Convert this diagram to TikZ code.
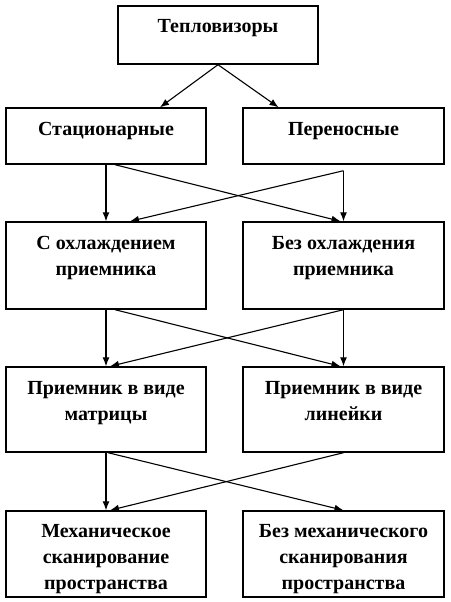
\documentclass[tikz,border=0pt]{standalone}
\usepackage{fontspec}
\setmainfont{Liberation Serif}
\usetikzlibrary{arrows.meta,calc}
\begin{document}
\begin{tikzpicture}[x=1pt,y=-1pt,
  box/.style={draw,line width=1.4pt,minimum width=200pt,inner sep=0pt},
  lbl/.style={anchor=north,inner sep=0pt,align=center,font=\fontsize{20}{26}\selectfont\bfseries},
  arr/.style={line width=1.1pt,-{Latex[length=9pt,width=7pt]}}]
\useasboundingbox (0,0) rectangle (450,602);
% boxes
\node[box,minimum height=58pt] (t) at (218,35) {};
\node[box,minimum height=56pt] (s1) at (106,136) {};
\node[box,minimum height=56pt,minimum width=201pt] (s2) at (343.5,136) {};
\node[box,minimum height=87pt] (c1) at (106,265.5) {};
\node[box,minimum height=87pt,minimum width=201pt] (c2) at (343.5,265.5) {};
\node[box,minimum height=85pt] (m1) at (106,409.5) {};
\node[box,minimum height=85pt,minimum width=201pt] (m2) at (343.5,409.5) {};
\node[box,minimum height=86pt] (k1) at (106,554) {};
\node[box,minimum height=86pt,minimum width=201pt] (k2) at (343.5,554) {};
% labels
\node[lbl] (lt) at ($(t.north)+(0,13.5)$) {\rule{0pt}{14pt}Тепловизоры};
\node[lbl] (ls1) at ($(s1.north)+(0,13.5)$) {\rule{0pt}{14pt}Стационарные};
\node[lbl] (ls2) at ($(s2.north)+(0,13.5)$) {\rule{0pt}{14pt}Переносные};
\node[lbl] (lc1) at ($(c1.north)+(0,13.5)$) {\rule{0pt}{14pt}С охлаждением\\приемника};
\node[lbl] (lc2) at ($(c2.north)+(0,13.5)$) {\rule{0pt}{14pt}Без охлаждения\\приемника};
\node[lbl] (lm1) at ($(m1.north)+(0,13.5)$) {\rule{0pt}{14pt}Приемник в виде\\матрицы};
\node[lbl] (lm2) at ($(m2.north)+(0,13.5)$) {\rule{0pt}{14pt}Приемник в виде\\линейки};
\node[lbl] (lk1) at ($(k1.north)+(0,12.5)$) {\rule{0pt}{14pt}Механическое\\сканирование\\пространства};
\node[lbl] (lk2) at ($(k2.north)+(0,12.5)$) {\rule{0pt}{14pt}Без механического\\сканирования\\пространства};
% connectors
\draw[arr] (t.south) -- ([xshift=54pt]s1.north);
\draw[arr] (t.south) -- ([xshift=-65pt]s2.north);
\draw[arr] (s1.south) -- (c1.north);
\draw[arr] ([xshift=9pt]s1.south) -- ([xshift=-3pt]c2.north);
\draw[arr] ([yshift=-6pt]s2.south) -- (c2.north);
\draw[arr] ([yshift=-6pt]s2.south) -- ([xshift=24pt]c1.north);
\draw[arr] (c1.south) -- (m1.north);
\draw[arr] ([xshift=9pt]c1.south) -- ([xshift=-3pt]m2.north);
\draw[arr] (c2.south) -- (m2.north);
\draw[arr] (c2.south) -- ([xshift=4pt]m1.north);
\draw[arr] (m1.south) -- (k1.north);
\draw[arr] ([xshift=2pt]m1.south) -- (k2.north);
\draw[arr] (m2.south) -- ([xshift=4pt]k1.north);
\end{tikzpicture}
\end{document}
